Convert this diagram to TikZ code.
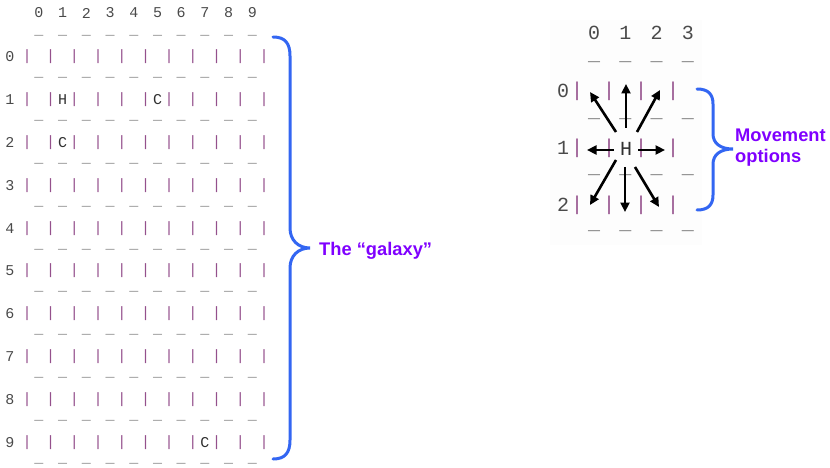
\documentclass[tikz,border=0pt]{standalone}
\usepackage{fontspec}
\setmainfont{Liberation Sans}
\newfontfamily\gridfont{Liberation Mono}
\usetikzlibrary{arrows.meta}
\definecolor{barcol}{HTML}{94508C}
\definecolor{numcol}{HTML}{4A4A4A}
\definecolor{dashcol}{HTML}{7A7A7A}
\definecolor{chcol}{HTML}{303030}
\definecolor{bracecol}{HTML}{3366F2}
\definecolor{labcol}{HTML}{7F00FF}
\definecolor{panelbg}{HTML}{FDFDFD}
\begin{document}
\begin{tikzpicture}[x=1pt,y=-1pt,
  g/.style={inner sep=0pt, font=\gridfont\fontsize{15}{15}\selectfont},
  G/.style={inner sep=0pt, font=\gridfont\fontsize{20}{20}\selectfont},
  num/.style={text=numcol},
  bar/.style={text=barcol},
  dsh/.style={text=dashcol},
  ch/.style={text=chcol},
  brace/.style={draw=bracecol, line width=3pt, line cap=round},
  lab/.style={text=labcol, font=\bfseries\fontsize{18.3}{21}\selectfont, align=left, inner sep=0pt},
  mv/.style={line width=2.6pt, -{Triangle[length=9.5pt,width=9pt]}}
]
\useasboundingbox (0,0) rectangle (830,468);
% ---------- left grid: the galaxy ----------
\foreach \k in {0,...,9} \node[g,num] (lh\k) at ({39+23.7*\k},13) {\k};
\foreach \j in {0,...,10} \foreach \k in {0,...,9}
  \node[g,dsh] (ld\j-\k) at ({39+23.7*\k},{35+42.8*\j}) {\_};
\foreach \j in {0,...,9} {
  \node[g,num] (lr\j) at (10,{57+42.8*\j}) {\j};
  \foreach \k in {0,...,10}
    \node[g,bar] (lb\j-\k) at ({27+23.7*\k},{57+42.8*\j}) {|};
}
\node[g,ch] (lH)  at (62.7,99.8)  {H};
\node[g,ch] (lC1) at (157.5,99.8) {C};
\node[g,ch] (lC2) at (62.7,142.6) {C};
\node[g,ch] (lC3) at (204.9,442.2) {C};
% ---------- right grid: movement ----------
\fill[panelbg] (550,20) rectangle (702,245);
\foreach \k in {0,...,3} \node[G,num] (rh\k) at ({594+31.3*\k},33) {\k};
\foreach \j in {0,...,3} \foreach \k in {0,...,3}
  \node[G,dsh] (rd\j-\k) at ({594+31.3*\k},{62+56.3*\j}) {\_};
\foreach \j in {0,...,2} {
  \node[G,num] (rr\j) at (563,{91+57*\j}) {\j};
  \foreach \k in {0,...,3}
    \node[G,bar] (rb\j-\k) at ({577+32*\k},{91+57*\j}) {|};
}
\node[G,ch] (rH) at (626,149) {H};
\coordinate (sN) at (626,128);  \coordinate (eN) at (626,84);
\coordinate (sNW) at (616,132); \coordinate (eNW) at (590,92);
\coordinate (sNE) at (637,132); \coordinate (eNE) at (660,90);
\coordinate (sW) at (614,150);  \coordinate (eW) at (587,150);
\coordinate (sE) at (638,150);  \coordinate (eE) at (665,150);
\coordinate (sS) at (625,167);  \coordinate (eS) at (625,212);
\coordinate (sSW) at (616,160); \coordinate (eSW) at (590,205);
\coordinate (sSE) at (635,167); \coordinate (eSE) at (659,207);
\foreach \d in {N,NW,NE,W,E,S,SW,SE} \draw[mv] (s\d) -- (e\d);
% ---------- braces ----------
\draw[brace] (273,37) .. controls (285,37) and (290,43) .. (290,56) -- (290,228)
  .. controls (290,240) and (298,248) .. (310,248)
  .. controls (298,248) and (290,256) .. (290,268) -- (290,440)
  .. controls (290,453) and (285,459) .. (273,459);
\draw[brace] (697,89) .. controls (708,89) and (713,94) .. (713,104) -- (713,134)
  .. controls (713,143) and (720,149) .. (733,149)
  .. controls (720,149) and (713,155) .. (713,164) -- (713,195)
  .. controls (713,205) and (708,210) .. (697,210);
% ---------- labels ----------
\node[lab, anchor=base west] (galaxy) at (319,255) {The “galaxy”};
\node[lab, anchor=west] (moves) at (735,148) {Movement\\options};
\end{tikzpicture}
\end{document}
